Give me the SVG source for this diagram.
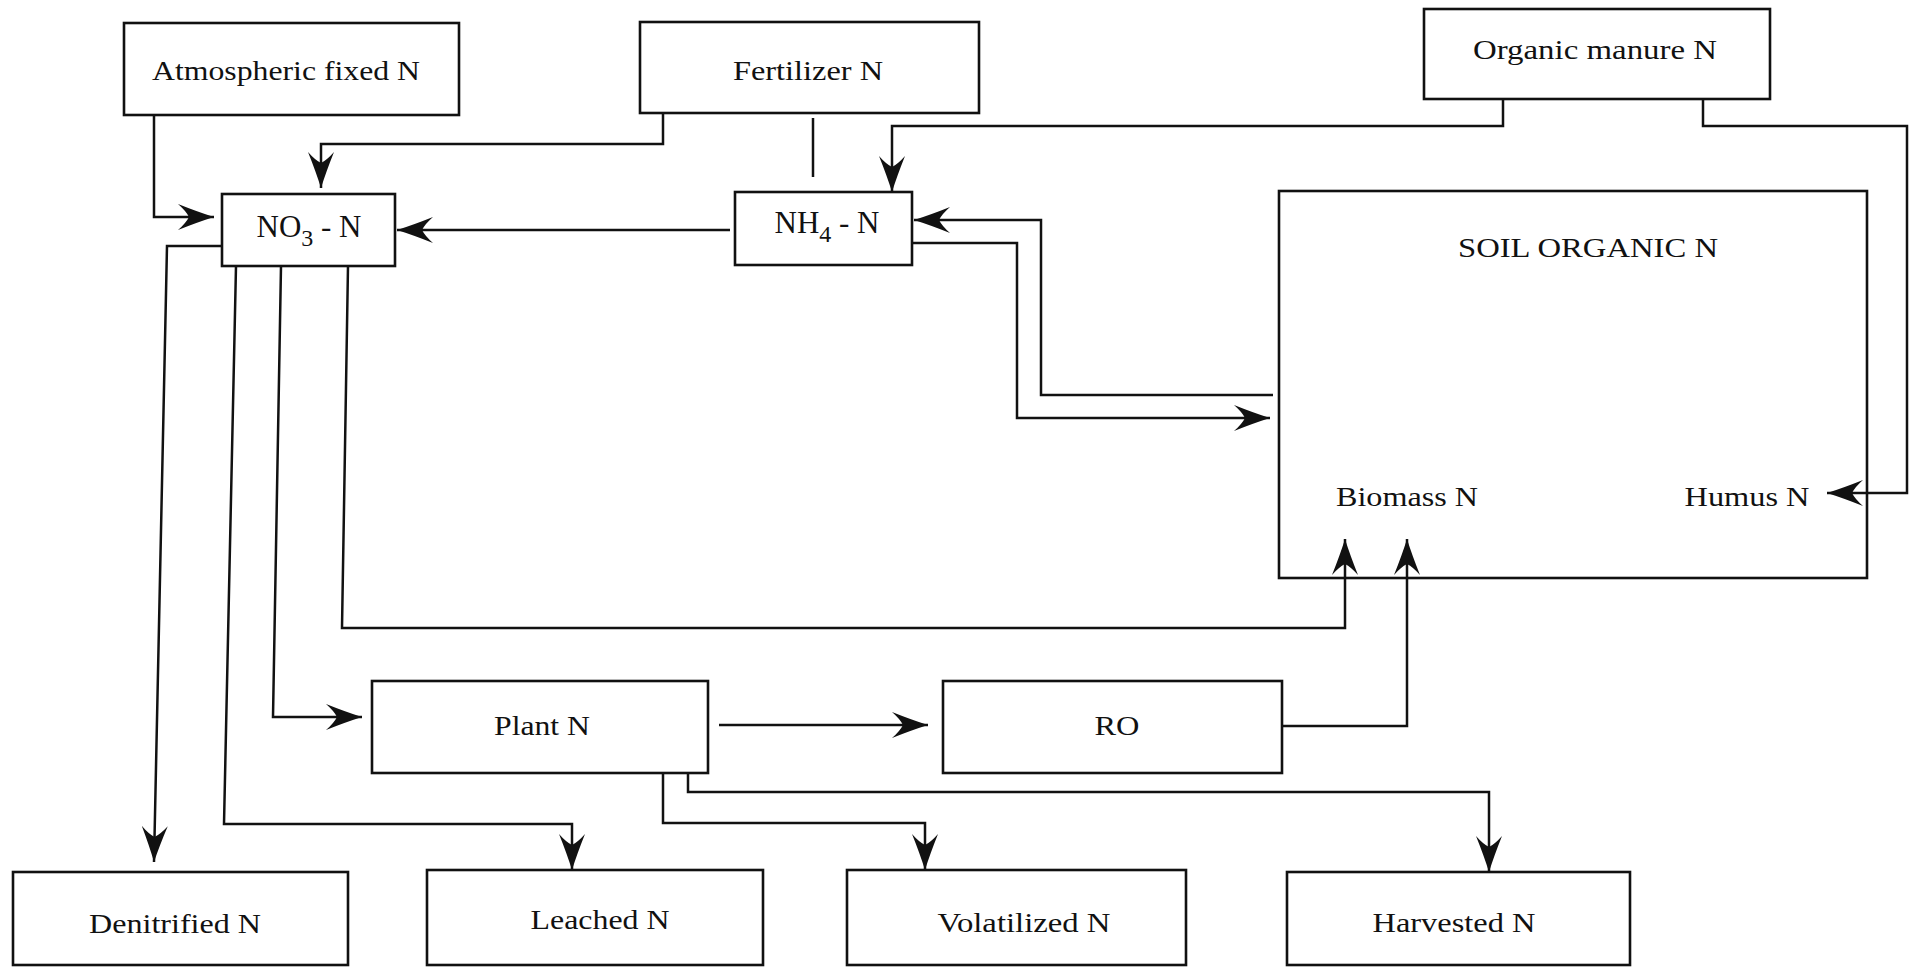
<svg xmlns="http://www.w3.org/2000/svg" width="1910" height="967" viewBox="0 0 1910 967">
<style>
.box{fill:#fff;stroke:#111;stroke-width:2.6}
.t{font-family:"Liberation Serif","Times New Roman",serif;font-size:28px;fill:#111;text-anchor:middle}
.big{font-size:31px}
.sub{font-size:24px}
.c{fill:none;stroke:#111;stroke-width:2.5}
.a{marker-end:url(#arr)}
</style>
<defs>
<marker id="arr" markerUnits="userSpaceOnUse" viewBox="-40 -15 42 30" refX="0" refY="0" markerWidth="42" markerHeight="30" orient="auto">
<path d="M0,0 Q-16,-5 -36,-13 Q-28,-6 -25,0 Q-28,6 -36,13 Q-16,5 0,0 Z" fill="#111"/>
</marker>
</defs>
<rect width="1910" height="967" fill="#fff"/>
<g id="atmospheric">
<rect class="box" x="124" y="23" width="335" height="92"/>
<text class="t" x="286" y="80" textLength="268" lengthAdjust="spacingAndGlyphs">Atmospheric fixed N</text>
</g>
<g id="fertilizer">
<rect class="box" x="640" y="22" width="339" height="91"/>
<text class="t" x="808" y="80" textLength="150" lengthAdjust="spacingAndGlyphs">Fertilizer N</text>
</g>
<g id="organic-manure">
<rect class="box" x="1424" y="9" width="346" height="90"/>
<text class="t" x="1595" y="59" textLength="244" lengthAdjust="spacingAndGlyphs">Organic manure N</text>
</g>
<g id="no3">
<rect class="box" x="222" y="194" width="173" height="72"/>
<text class="t big" x="309" y="237">NO<tspan class="sub" dy="9">3</tspan><tspan dy="-9"> - N</tspan></text>
</g>
<g id="nh4">
<rect class="box" x="735" y="192" width="177" height="73"/>
<text class="t big" x="827" y="233">NH<tspan class="sub" dy="9">4</tspan><tspan dy="-9"> - N</tspan></text>
</g>
<g id="soil-organic">
<rect class="box" x="1279" y="191" width="588" height="387"/>
<text class="t" x="1588" y="257" textLength="260" lengthAdjust="spacingAndGlyphs">SOIL ORGANIC N</text>
<text class="t" x="1407" y="506" textLength="142" lengthAdjust="spacingAndGlyphs">Biomass N</text>
<text class="t" x="1747" y="506" textLength="125" lengthAdjust="spacingAndGlyphs">Humus N</text>
</g>
<g id="plant">
<rect class="box" x="372" y="681" width="336" height="92"/>
<text class="t" x="542" y="735" textLength="96" lengthAdjust="spacingAndGlyphs">Plant N</text>
</g>
<g id="ro">
<rect class="box" x="943" y="681" width="339" height="92"/>
<text class="t" x="1117" y="735" textLength="45" lengthAdjust="spacingAndGlyphs">RO</text>
</g>
<g id="denitrified">
<rect class="box" x="13" y="872" width="335" height="93"/>
<text class="t" x="175" y="933" textLength="172" lengthAdjust="spacingAndGlyphs">Denitrified N</text>
</g>
<g id="leached">
<rect class="box" x="427" y="870" width="336" height="95"/>
<text class="t" x="600" y="929" textLength="139" lengthAdjust="spacingAndGlyphs">Leached N</text>
</g>
<g id="volatilized">
<rect class="box" x="847" y="870" width="339" height="95"/>
<text class="t" x="1024" y="932" textLength="173" lengthAdjust="spacingAndGlyphs">Volatilized N</text>
</g>
<g id="harvested">
<rect class="box" x="1287" y="872" width="343" height="93"/>
<text class="t" x="1454" y="932" textLength="163" lengthAdjust="spacingAndGlyphs">Harvested N</text>
</g>
<g id="connectors">
<path class="c a" d="M154,115 V217 H214"/>
<path class="c a" d="M663,113 V144 H321 V188"/>
<path class="c" d="M813,118 V177"/>
<path class="c a" d="M1503,99 V126 H892 V192"/>
<path class="c a" d="M1703,99 V126 H1907 V493 H1827"/>
<path class="c a" d="M730,230 H397"/>
<path class="c a" d="M1273,395 H1041 V220 H914"/>
<path class="c a" d="M912,243 H1017 V418 H1270"/>
<path class="c a" d="M222,246 H167 L154,862"/>
<path class="c a" d="M236,266 L224,824 H572 V870"/>
<path class="c a" d="M281,266 L273,717 H362"/>
<path class="c a" d="M348,266 L342,628 H1345 V539"/>
<path class="c a" d="M719,725 H928"/>
<path class="c a" d="M1282,726 H1407 V539"/>
<path class="c a" d="M663,773 V823 H925 V870"/>
<path class="c a" d="M688,773 V792 H1489 V872"/>
</g>
</svg>
